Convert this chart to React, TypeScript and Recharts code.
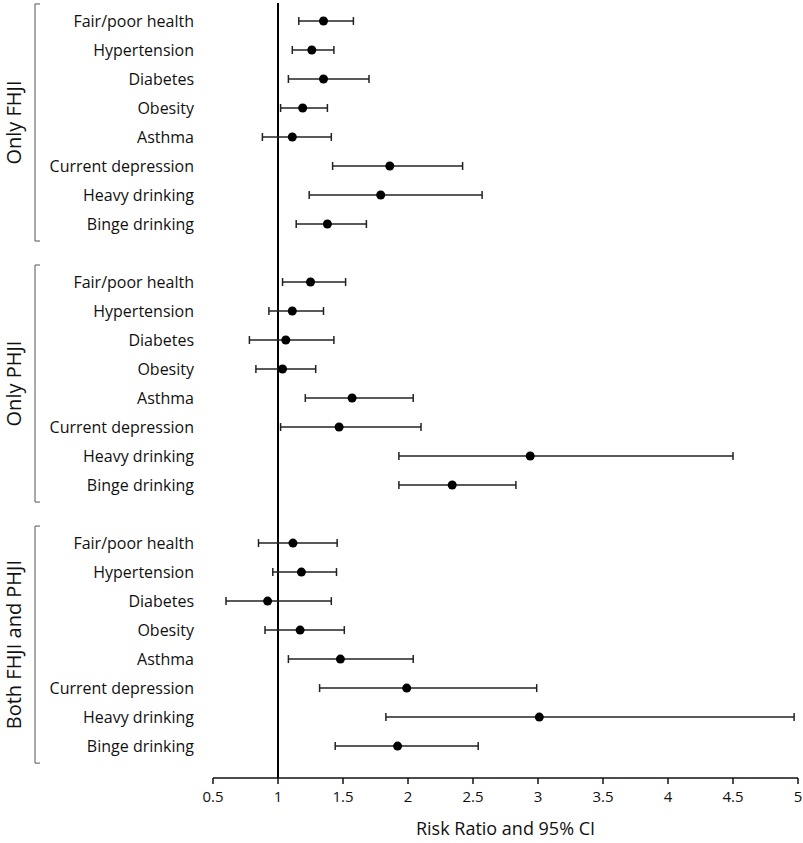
import {
  ScatterChart,
  Scatter,
  XAxis,
  YAxis,
  ErrorBar,
  ReferenceLine,
} from "recharts";

const outcomes = [
  "Fair/poor health",
  "Hypertension",
  "Diabetes",
  "Obesity",
  "Asthma",
  "Current depression",
  "Heavy drinking",
  "Binge drinking",
];

const groups = ["Only FHJI", "Only PHJI", "Both FHJI and PHJI"];

// risk ratio, lower and upper 95% CI per group, same order as outcomes
const fhjiRR = [1.35, 1.26, 1.35, 1.19, 1.11, 1.86, 1.79, 1.38];
const fhjiLow = [1.16, 1.11, 1.08, 1.02, 0.88, 1.42, 1.24, 1.14];
const fhjiHigh = [1.58, 1.43, 1.7, 1.38, 1.41, 2.42, 2.57, 1.68];

const phjiRR = [1.25, 1.11, 1.06, 1.035, 1.57, 1.47, 2.94, 2.34];
const phjiLow = [1.035, 0.93, 0.78, 0.83, 1.21, 1.02, 1.93, 1.93];
const phjiHigh = [1.52, 1.35, 1.43, 1.29, 2.04, 2.1, 4.5, 2.83];

const bothRR = [1.115, 1.18, 0.92, 1.17, 1.48, 1.99, 3.01, 1.92];
const bothLow = [0.85, 0.96, 0.6, 0.9, 1.08, 1.32, 1.83, 1.44];
const bothHigh = [1.455, 1.45, 1.41, 1.51, 2.04, 2.99, 4.97, 2.54];

const xTicks = [0.5, 1, 1.5, 2, 2.5, 3, 3.5, 4, 4.5, 5];

const W = 803;
const H = 843;
const MARGIN = { top: 3, right: 5, bottom: 3, left: 0 };
const X_AXIS_H = 62;
const Y_MIN = -0.62;
const Y_MAX = 26.1;
const ROW = (H - MARGIN.top - MARGIN.bottom - X_AXIS_H) / (Y_MAX - Y_MIN);
const FONT = "'Open Sans', sans-serif";

const series = [
  { rr: fhjiRR, lo: fhjiLow, hi: fhjiHigh },
  { rr: phjiRR, lo: phjiLow, hi: phjiHigh },
  { rr: bothRR, lo: bothLow, hi: bothHigh },
];

const rows = series.flatMap((s, g) =>
  s.rr.map((rr, i) => ({
    pos: g * 9 + i,
    rr,
    err: [rr - s.lo[i], s.hi[i] - rr],
  }))
);

const yTicks = rows.map(r => r.pos);

const RowTick = (props: any) => {
  const { x, y, payload } = props;
  const pos = payload.value as number;
  const g = Math.floor(pos / 9);
  const i = pos % 9;
  return (
    <g>
      <text
        x={x}
        y={y}
        dy="0.35em"
        textAnchor="end"
        fontFamily={FONT}
        fontSize={16}
        fill="#111"
      >
        {outcomes[i]}
      </text>
      {i === 0 && (
        <g>
          <path
            d={`M40,${y - 17} H35 V${y + 7 * ROW + 17} H40`}
            fill="none"
            stroke="#555"
            strokeWidth={1}
          />
          <text
            transform={`translate(14, ${y + 3.5 * ROW}) rotate(-90)`}
            dy="0.35em"
            textAnchor="middle"
            fontFamily={FONT}
            fontSize={20}
            fill="#111"
          >
            {groups[g]}
          </text>
        </g>
      )}
    </g>
  );
};

const Dot = (props: any) => (
  <circle cx={props.cx} cy={props.cy} r={4.5} fill="#000" />
);

export default function App() {
  return (
    <div style={{ position: "absolute", left: 0, top: 0, background: "#fff" }}>
      <ScatterChart width={W} height={H} margin={MARGIN}>
        <XAxis
          type="number"
          dataKey="rr"
          domain={[0.5, 5]}
          ticks={xTicks}
          interval={0}
          allowDataOverflow
          height={X_AXIS_H}
          tickSize={6}
          tickMargin={7}
          stroke="#111"
          axisLine={{ stroke: "#111", strokeWidth: 1.5 }}
          tickLine={{ stroke: "#111", strokeWidth: 1.5 }}
          tick={{ fill: "#111", fontSize: 15, fontFamily: FONT }}
          label={{
            value: "Risk Ratio and 95% CI",
            position: "insideBottom",
            offset: 5,
            fill: "#111",
            fontSize: 18,
            fontFamily: FONT,
          }}
        />
        <YAxis
          type="number"
          dataKey="pos"
          domain={[Y_MIN, Y_MAX]}
          reversed
          allowDataOverflow
          ticks={yTicks}
          interval={0}
          width={213}
          axisLine={false}
          tickLine={false}
          tickSize={0}
          tickMargin={19}
          tick={<RowTick />}
        />
        <ReferenceLine x={1} stroke="#000" strokeWidth={2} />
        <Scatter
          data={rows}
          fill="#000"
          shape={<Dot />}
          isAnimationActive={false}
        >
          <ErrorBar
            dataKey="err"
            direction="x"
            width={4}
            stroke="#222"
            strokeWidth={1.5}
            isAnimationActive={false}
          />
        </Scatter>
      </ScatterChart>
    </div>
  );
}
